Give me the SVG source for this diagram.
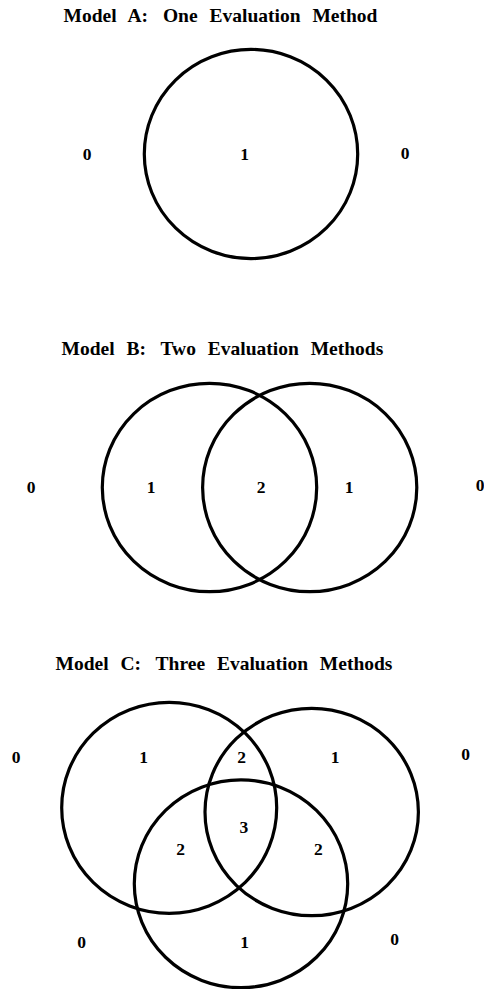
<svg xmlns="http://www.w3.org/2000/svg" width="484" height="989" viewBox="0 0 484 989">
<style>
.ring{fill:none;stroke:#000;stroke-width:3.2}
.title{font-family:"Liberation Serif","Times New Roman",serif;font-weight:bold;font-size:19.5px;word-spacing:7px;text-anchor:middle;fill:#000}
.num{font-family:"Liberation Serif","Times New Roman",serif;font-weight:bold;font-size:17.5px;text-anchor:middle;fill:#000}
</style>
<rect width="484" height="989" fill="#fff"/>
<g id="modelA">
<text class="title" x="220.5" y="22">Model A: <tspan dx="3">One Evaluation Method</tspan></text>
<g id="A-circle"><ellipse class="ring" cx="251" cy="154" rx="106.7" ry="104.6"/></g>
<text class="num" x="87" y="160">0</text>
<text class="num" x="244.5" y="160">1</text>
<text class="num" x="405" y="159">0</text>
</g>
<g id="modelB">
<text class="title" x="222.4" y="355">Model B: <tspan dx="3">Two Evaluation Methods</tspan></text>
<g id="B-left"><ellipse class="ring" cx="209.5" cy="487.5" rx="107.2" ry="104.2"/></g>
<g id="B-right"><ellipse class="ring" cx="309.7" cy="487.5" rx="107.1" ry="104.2"/></g>
<text class="num" x="31" y="493">0</text>
<text class="num" x="151" y="493">1</text>
<text class="num" x="261" y="493">2</text>
<text class="num" x="349" y="493">1</text>
<text class="num" x="480" y="491">0</text>
</g>
<g id="modelC">
<text class="title" x="224" y="670">Model C: <tspan dx="3">Three Evaluation Methods</tspan></text>
<g id="C-topleft"><ellipse class="ring" cx="169.2" cy="807.8" rx="107.5" ry="105.5"/></g>
<g id="C-topright"><ellipse class="ring" cx="311.7" cy="812" rx="106.7" ry="103.7"/></g>
<g id="C-bottom"><ellipse class="ring" cx="241" cy="883.8" rx="106.7" ry="103.9"/></g>
<text class="num" x="16" y="763">0</text>
<text class="num" x="143.7" y="763">1</text>
<text class="num" x="241.7" y="763">2</text>
<text class="num" x="335" y="763">1</text>
<text class="num" x="465.5" y="760">0</text>
<text class="num" x="243.8" y="833">3</text>
<text class="num" x="180.5" y="855">2</text>
<text class="num" x="318.3" y="855">2</text>
<text class="num" x="81.7" y="948">0</text>
<text class="num" x="244.5" y="948">1</text>
<text class="num" x="394.5" y="945">0</text>
</g>
</svg>
